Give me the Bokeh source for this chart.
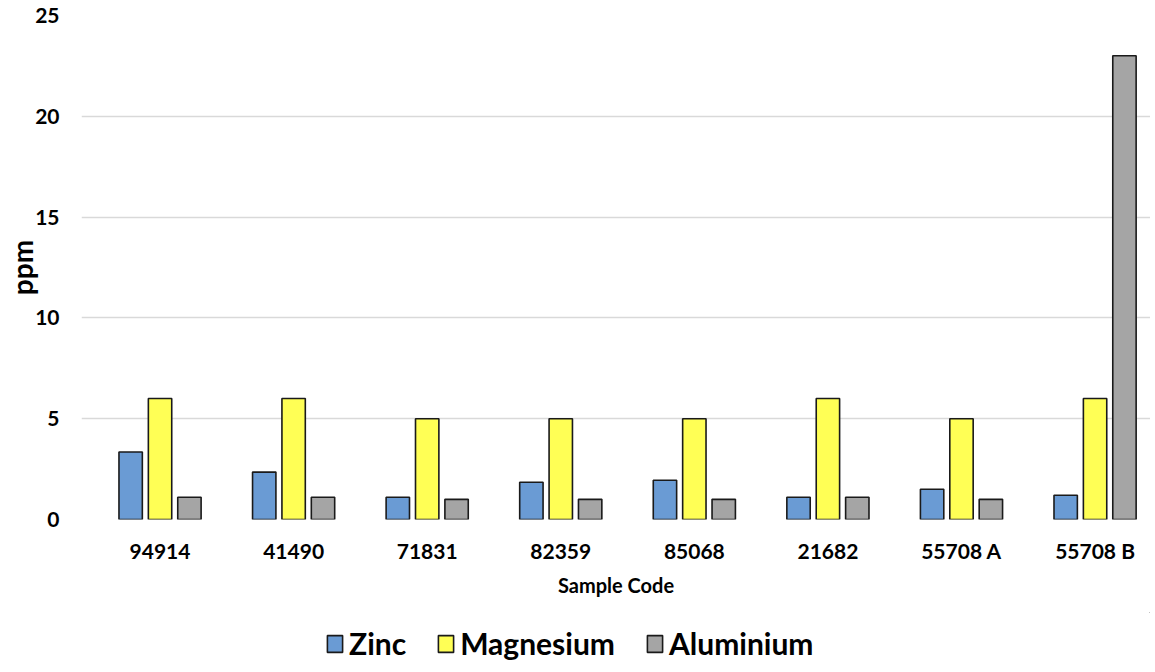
from bokeh.plotting import figure
from bokeh.layouts import column
from bokeh.models import Range1d, FixedTicker, Legend, LegendItem
from bokeh.embed import file_html
from bokeh.resources import INLINE

samples = ["94914", "41490", "71831", "82359", "85068", "21682", "55708 A", "55708 B"]
zinc = [3.35, 2.35, 1.1, 1.85, 1.95, 1.1, 1.5, 1.2]
magnesium = [6, 6, 5, 5, 5, 6, 5, 6]
aluminium = [1.1, 1.1, 1.0, 1.0, 1.0, 1.1, 1.0, 23.0]
series_names = ["Zinc", "Magnesium", "Aluminium"]
series_colors = ["#6A9BD4", "#FFFF55", "#A5A5A5"]
y_ticks = [0, 5, 10, 15, 20, 25]

FONT = "Lato"
idx = list(range(len(samples)))

p = figure(width=1150, height=612, output_backend="svg", toolbar_location=None,
           x_range=Range1d(-0.588, 7.415), y_range=Range1d(0, 25),
           min_border_left=81, min_border_right=0, min_border_top=15, min_border_bottom=93)
p.outline_line_color = None
p.background_fill_color = "white"
p.border_fill_color = "white"

offsets = [-0.22, 0.0, 0.22]
renderers = []
for vals, off, col in zip([zinc, magnesium, aluminium], offsets, series_colors):
    r = p.vbar(x=[i + off for i in idx], top=vals, bottom=0, width=0.175,
               fill_color=col, line_color="#1a1a1a", line_width=1.6)
    renderers.append(r)

p.xgrid.grid_line_color = None
p.ygrid.grid_line_color = "#D9D9D9"
p.ygrid.grid_line_width = 1.5
p.ygrid.ticker = FixedTicker(ticks=y_ticks)

p.yaxis.ticker = FixedTicker(ticks=y_ticks)
p.yaxis.axis_line_color = None
p.yaxis.major_tick_line_color = None
p.yaxis.minor_tick_line_color = None
p.yaxis.major_label_text_font = FONT
p.yaxis.major_label_text_font_style = "bold"
p.yaxis.major_label_text_font_size = "21px"
p.yaxis.major_label_text_color = "black"
p.yaxis.major_label_standoff = 16
p.yaxis.axis_label = "ppm"
p.yaxis.axis_label_text_font = FONT
p.yaxis.axis_label_text_font_style = "bold"
p.yaxis.axis_label_text_font_size = "28px"
p.yaxis.axis_label_text_color = "black"
p.yaxis.axis_label_standoff = -7

p.xaxis.ticker = FixedTicker(ticks=idx)
p.xaxis.major_label_overrides = {i: s for i, s in zip(idx, samples)}
p.xaxis.axis_line_color = None
p.xaxis.major_tick_line_color = None
p.xaxis.minor_tick_line_color = None
p.xaxis.major_label_text_font = FONT
p.xaxis.major_label_text_font_style = "bold"
p.xaxis.major_label_text_font_size = "21px"
p.xaxis.major_label_text_color = "black"
p.xaxis.major_label_standoff = 12
p.xaxis.axis_label = "Sample Code"
p.xaxis.axis_label_text_font = FONT
p.xaxis.axis_label_text_font_style = "bold"
p.xaxis.axis_label_text_font_size = "20px"
p.xaxis.axis_label_text_color = "black"
p.xaxis.axis_label_standoff = 7

# legend strip below the chart (swatch renderers sit outside the visible range)
lg = figure(width=1150, height=52, output_backend="svg", toolbar_location=None,
            x_range=Range1d(0, 1), y_range=Range1d(0, 1),
            x_axis_location=None, y_axis_location=None,
            min_border_left=81, min_border_right=0, min_border_top=0, min_border_bottom=0)
lg.grid.visible = False
lg.outline_line_color = None
lg_renderers = []
for col in series_colors:
    lg_renderers.append(lg.vbar(x=[5], top=[5], bottom=[4], width=0.1, fill_color=col,
                                line_color="#1a1a1a", line_width=1.6))

legend = Legend(items=[LegendItem(label=n, renderers=[r]) for n, r in zip(series_names, lg_renderers)],
                orientation="horizontal", location=(244, 3),
                glyph_width=19, glyph_height=21, label_standoff=5, spacing=30,
                padding=0, margin=0, border_line_color=None, background_fill_alpha=0,
                label_text_font=FONT, label_text_font_style="bold",
                label_text_font_size="30px", label_text_color="black")
lg.add_layout(legend, "center")

layout = column(p, lg, spacing=0)
open("out.html", "w").write(file_html(layout, INLINE))
